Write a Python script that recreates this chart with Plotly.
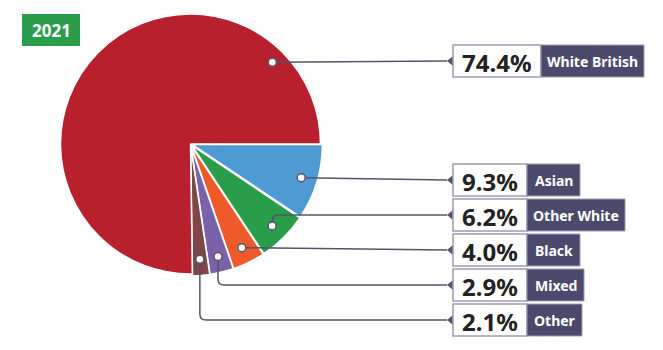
import math
import plotly.graph_objects as go

# ---- data ----
groups = ["White British", "Asian", "Other White", "Black", "Mixed", "Other"]
shares = [74.4, 9.3, 6.2, 4.0, 2.9, 2.1]
pct_labels = ["74.4%", "9.3%", "6.2%", "4.0%", "2.9%", "2.1%"]
colors = ["#b8202e", "#4e9bd4", "#2a9d4b", "#f05a2a", "#7a62a8", "#7e4646"]
year_label = "2021"

# ---- layout constants (pixels) ----
W, H = 663, 350
cx, cy, R = 190.5, 144, 130
pull = 0.015
dot_r_frac = 0.89
wb_dot_angle = 45  # degrees, custom dot position in the big slice
box_left = 453
box_centers = [61, 180, 215, 250, 285, 320]
pct_widths = [88, 74, 74, 74, 74, 74]
lab_widths = [103, 53, 98, 53, 57, 55]
box_h = 32
line_col = "#55546b"
dark = "#4b4a6c"
font_fam = "Noto Sans, Open Sans, sans-serif"

# pie order: small groups clockwise from 3 o'clock, then White British
order = list(range(1, len(groups))) + [0]
fig = go.Figure()
fig.add_trace(go.Pie(
    labels=[groups[i] for i in order],
    values=[shares[i] for i in order],
    marker=dict(colors=[colors[i] for i in order], line=dict(color="white", width=1.5)),
    pull=[pull if i != 0 else 0 for i in order],
    sort=False, direction="clockwise", rotation=90,
    textinfo="none", hoverinfo="label+percent", showlegend=False,
    domain=dict(x=[(cx - R * (1 + pull)) / W, (cx + R * (1 + pull)) / W],
                y=[1 - (cy + R * (1 + pull)) / H, 1 - (cy - R * (1 + pull)) / H]),
))

# dot positions from data
total = sum(shares)
angles = {}
cum = 0
for i in order:
    frac = shares[i] / total
    mid = -(cum + frac / 2) * 360
    angles[i] = mid
    cum += frac
angles[0] = wb_dot_angle

shapes = []
annotations = []
for i, g in enumerate(groups):
    a = math.radians(angles[i])
    dx = cx + dot_r_frac * R * math.cos(a)
    dy = cy - dot_r_frac * R * math.sin(a)
    by = box_centers[i]
    tip = box_left - 6
    if abs(dy - by) < 6:
        path = f"M {dx},{dy} L {tip},{by}"
    else:
        s = 1 if by > dy else -1
        rc = 6
        path = (f"M {dx},{dy} L {dx},{by - s*rc} Q {dx},{by} {dx+rc},{by} L {tip},{by}")
    shapes.append(dict(type="path", xref="x", yref="y", path=path,
                       line=dict(color=line_col, width=1.5), layer="above"))
    shapes.append(dict(type="circle", xref="x", yref="y",
                       x0=dx - 4, x1=dx + 4, y0=dy - 4, y1=dy + 4,
                       fillcolor="white", line=dict(color=line_col, width=1.5), layer="above"))
    # arrow triangle
    shapes.append(dict(type="path", xref="x", yref="y",
                       path=f"M {box_left},{by-5} L {box_left-6},{by} L {box_left},{by+5} Z",
                       fillcolor=line_col, line=dict(width=0), layer="above"))
    # percentage box
    pw = pct_widths[i]
    shapes.append(dict(type="rect", xref="x", yref="y",
                       x0=box_left, x1=box_left + pw, y0=by - box_h / 2, y1=by + box_h / 2,
                       fillcolor="white", line=dict(color="#9d9bb3", width=1.5), layer="above"))
    lw = lab_widths[i]
    shapes.append(dict(type="rect", xref="x", yref="y",
                       x0=box_left + pw, x1=box_left + pw + lw, y0=by - box_h / 2, y1=by + box_h / 2,
                       fillcolor=dark, line=dict(color="#9d9bb3", width=1), layer="above"))
    annotations.append(dict(xref="x", yref="y", x=box_left + pw / 2, y=by + 1,
                            text=f"<b>{pct_labels[i]}</b>", showarrow=False,
                            font=dict(family=font_fam, size=24, color="#222222")))
    annotations.append(dict(xref="x", yref="y", x=box_left + pw + lw / 2, y=by,
                            text=f"<b>{g}</b>", showarrow=False,
                            font=dict(family=font_fam, size=14, color="white")))

# year tag
shapes.append(dict(type="rect", xref="x", yref="y", x0=22, x1=80, y0=14, y1=46,
                   fillcolor="#2a9d4b", line=dict(width=0), layer="above"))
annotations.append(dict(xref="x", yref="y", x=51, y=30, text=f"<b>{year_label}</b>",
                        showarrow=False, font=dict(family=font_fam, size=17, color="white")))

fig.update_layout(
    width=W, height=H, margin=dict(l=0, r=0, t=0, b=0),
    paper_bgcolor="white", plot_bgcolor="white",
    xaxis=dict(range=[0, W], visible=False, fixedrange=True),
    yaxis=dict(range=[H, 0], visible=False, fixedrange=True),
    shapes=shapes, annotations=annotations, showlegend=False,
)
fig.write_html("out.html")
